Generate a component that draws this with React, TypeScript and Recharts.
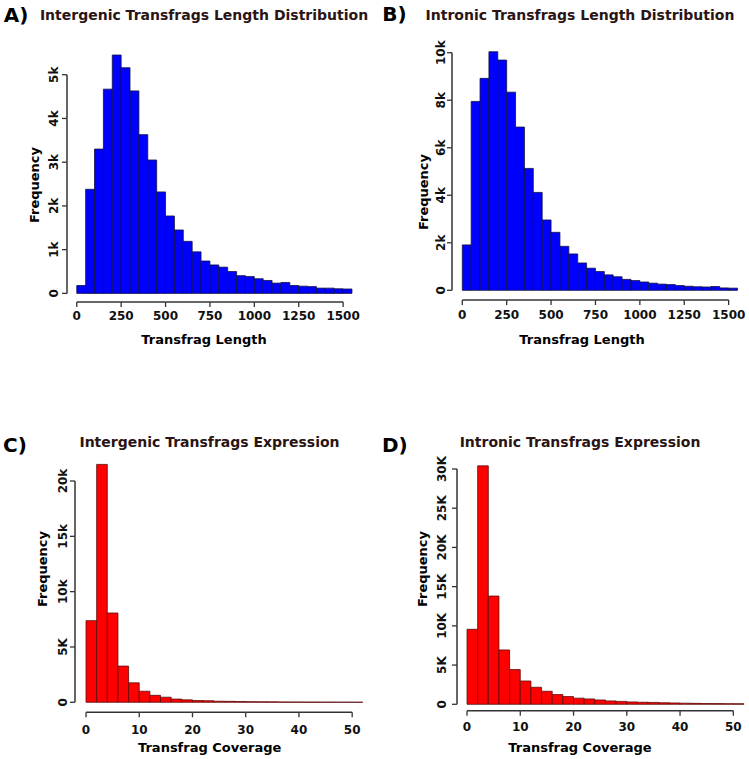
import React from 'react';
import { BarChart, Bar, XAxis, YAxis } from 'recharts';

// ---- Data ----
const lengthBinStarts = [0, 50, 100, 150, 200, 250, 300, 350, 400, 450, 500, 550, 600, 650, 700, 750, 800, 850, 900, 950, 1000, 1050, 1100, 1150, 1200, 1250, 1300, 1350, 1400, 1450, 1500];
const intergenicLengthCounts = [180, 2380, 3300, 4670, 5450, 5160, 4630, 3630, 3050, 2320, 1770, 1450, 1190, 950, 740, 650, 600, 500, 405, 385, 335, 295, 235, 250, 180, 165, 155, 120, 120, 105, 100];
const intronicLengthCounts = [1910, 7950, 8920, 10040, 9690, 8340, 6870, 5130, 4120, 2960, 2440, 1850, 1530, 1150, 930, 790, 650, 570, 460, 410, 350, 300, 260, 240, 200, 170, 150, 140, 160, 100, 90];

const coverageBinStarts = [0, 2, 4, 6, 8, 10, 12, 14, 16, 18, 20, 22, 24, 26, 28, 30, 32, 34, 36, 38, 40, 42, 44, 46, 48, 50];
const intergenicCoverageCounts = [7380, 21500, 8070, 3270, 1760, 1000, 630, 460, 290, 220, 160, 140, 100, 85, 70, 55, 45, 38, 30, 25, 20, 18, 15, 12, 10, 8];
const intronicCoverageCounts = [9560, 30400, 13800, 6930, 4420, 2970, 2170, 1660, 1240, 980, 780, 680, 550, 430, 370, 300, 260, 240, 200, 170, 140, 120, 100, 90, 80, 70];

const lengthTicks = [0, 250, 500, 750, 1000, 1250, 1500];
const coverageTicks = [0, 10, 20, 30, 40, 50];

const aYTicks = [0, 1000, 2000, 3000, 4000, 5000];
const aYLabels = ['0', '1k', '2k', '3k', '4k', '5k'];
const bYTicks = [0, 2000, 4000, 6000, 8000, 10000];
const bYLabels = ['0', '2k', '4k', '6k', '8k', '10k'];
const cYTicks = [0, 5000, 10000, 15000, 20000];
const cYLabels = ['0', '5K', '10k', '15k', '20k'];
const dYTicks = [0, 5000, 10000, 15000, 20000, 25000, 30000];
const dYLabels = ['0', '5K', '10K', '15K', '20K', '25K', '30K'];

const buildBins = (starts: number[], counts: number[], w: number) =>
  starts.map((s, i) => ({ mid: s + w / 2, count: counts[i] }));

const FONT = 'DejaVu Sans';
const AXIS = '#333';
const TS = 5;

type PanelProps = {
  data: { mid: number; count: number }[];
  binW: number;
  xDomain: [number, number];
  yDomain: [number, number];
  xTicks: number[];
  yTicks: number[];
  yLabels: string[];
  plot: { left: number; top: number; width: number; height: number };
  fill: string;
  stroke: string;
  xTickMargin: number;
  yTickMargin: number;
  marginRight?: number;
};

function Panel(p: PanelProps) {
  const YW = 40;
  const MT = 10;
  const MR = p.marginRight ?? 10;
  const XH = 30;
  const pxPerX = p.plot.width / (p.xDomain[1] - p.xDomain[0]);
  const pxPerY = p.plot.height / (p.yDomain[1] - p.yDomain[0]);
  const bandPx = p.binW * pxPerX;

  const XTick = (tp: any) => {
    const v = tp.payload.value;
    const i = p.xTicks.indexOf(v);
    const axisY = tp.y - TS - p.xTickMargin;
    const stepPx = i > 0 ? (p.xTicks[i] - p.xTicks[i - 1]) * pxPerX : 0;
    return (
      <g>
        {i > 0 && (
          <line x1={tp.x - stepPx} x2={tp.x} y1={axisY} y2={axisY} stroke={AXIS} strokeWidth={1.5} />
        )}
        <text
          x={tp.x}
          y={tp.y}
          dy="0.71em"
          textAnchor="middle"
          fontSize={12}
          fontWeight="bold"
          fontFamily={FONT}
          fill="#111"
        >
          {String(v)}
        </text>
      </g>
    );
  };

  const YTick = (tp: any) => {
    const v = tp.payload.value;
    const i = p.yTicks.indexOf(v);
    const axisX = tp.x + TS + p.yTickMargin;
    const stepPx = i > 0 ? (p.yTicks[i] - p.yTicks[i - 1]) * pxPerY : 0;
    return (
      <g>
        {i > 0 && (
          <line x1={axisX} x2={axisX} y1={tp.y} y2={tp.y + stepPx} stroke={AXIS} strokeWidth={1.5} />
        )}
        <text
          x={tp.x}
          y={tp.y}
          transform={`rotate(-90 ${tp.x} ${tp.y})`}
          textAnchor="middle"
          fontSize={12}
          fontWeight="bold"
          fontFamily={FONT}
          fill="#111"
        >
          {i >= 0 ? p.yLabels[i] : String(v)}
        </text>
      </g>
    );
  };

  return (
    <div style={{ position: 'absolute', left: p.plot.left - YW, top: p.plot.top - MT }}>
      <BarChart
        width={YW + p.plot.width + MR}
        height={MT + p.plot.height + XH}
        data={p.data}
        margin={{ top: MT, right: MR, bottom: 0, left: 0 }}
        barCategoryGap={0}
        barGap={0}
      >
        <XAxis
          dataKey="mid"
          type="number"
          domain={p.xDomain}
          ticks={p.xTicks}
          allowDataOverflow
          interval={0}
          axisLine={false}
          tickLine={{ stroke: AXIS, strokeWidth: 1.3 }}
          tickSize={TS}
          tickMargin={p.xTickMargin}
          height={XH}
          tick={XTick}
        />
        <YAxis
          type="number"
          domain={p.yDomain}
          ticks={p.yTicks}
          allowDataOverflow
          interval={0}
          width={YW}
          axisLine={false}
          tickLine={{ stroke: AXIS, strokeWidth: 1.3 }}
          tickSize={TS}
          tickMargin={p.yTickMargin}
          tick={YTick}
        />
        <Bar
          dataKey="count"
          fill={p.fill}
          stroke={p.stroke}
          strokeWidth={0.8}
          barSize={bandPx - 0.02}
          isAnimationActive={false}
        />
      </BarChart>
    </div>
  );
}

const Txt = ({ x, y, size, color, rot, children }: any) => (
  <div
    style={{
      position: 'absolute',
      left: x,
      top: y,
      transform: `translate(-50%, -50%)${rot ? ' rotate(-90deg)' : ''}`,
      fontSize: size,
      fontWeight: 'bold',
      color,
      whiteSpace: 'nowrap',
      lineHeight: 1,
      fontFamily: FONT,
    }}
  >
    {children}
  </div>
);

const TITLE = '#2a1414';

export default function App() {
  return (
    <div
      style={{
        position: 'absolute',
        left: 0,
        top: 0,
        width: 749,
        height: 759,
        overflow: 'hidden',
        background: '#fff',
        fontFamily: FONT,
      }}
    >
      <Panel
        data={buildBins(lengthBinStarts, intergenicLengthCounts, 50)}
        binW={50}
        xDomain={[-55, 1612]}
        yDomain={[-197, 5794]}
        xTicks={lengthTicks}
        yTicks={aYTicks}
        yLabels={aYLabels}
        plot={{ left: 67, top: 40, width: 296, height: 262 }}
        fill="#0000ff"
        stroke="#101040"
        xTickMargin={4}
        yTickMargin={4}
      />
      <Panel
        data={buildBins(lengthBinStarts, intronicLengthCounts, 50)}
        binW={50}
        xDomain={[-58, 1609]}
        yDomain={[-408, 10535]}
        xTicks={lengthTicks}
        yTicks={bYTicks}
        yLabels={bYLabels}
        plot={{ left: 452, top: 40, width: 296, height: 260 }}
        fill="#0000ff"
        stroke="#101040"
        xTickMargin={5}
        yTickMargin={2}
        marginRight={0}
      />
      <Panel
        data={buildBins(coverageBinStarts, intergenicCoverageCounts, 2)}
        binW={2}
        xDomain={[-2.07, 54.1]}
        yDomain={[-904, 22350]}
        xTicks={coverageTicks}
        yTicks={cYTicks}
        yLabels={cYLabels}
        plot={{ left: 75, top: 455, width: 299, height: 257.3 }}
        fill="#ff0000"
        stroke="#5c0a0a"
        xTickMargin={8}
        yTickMargin={3}
      />
      <Panel
        data={buildBins(coverageBinStarts, intronicCoverageCounts, 2)}
        binW={2}
        xDomain={[-1.88, 52.57]}
        yDomain={[-816, 31786]}
        xTicks={coverageTicks}
        yTicks={dYTicks}
        yLabels={dYLabels}
        plot={{ left: 457, top: 455, width: 290, height: 255.7 }}
        fill="#ff0000"
        stroke="#5c0a0a"
        xTickMargin={7}
        yTickMargin={6}
        marginRight={0}
      />

      <Txt x={16} y={15} size={20} color="#000">A)</Txt>
      <Txt x={204} y={14.5} size={14} color={TITLE}>Intergenic Transfrags Length Distribution</Txt>
      <Txt x={394.5} y={13.5} size={20} color="#000">B)</Txt>
      <Txt x={580} y={14.5} size={14} color={TITLE}>Intronic Transfrags Length Distribution</Txt>
      <Txt x={15} y={444.7} size={20} color="#000">C)</Txt>
      <Txt x={209.5} y={442} size={14} color={TITLE}>Intergenic Transfrags Expression</Txt>
      <Txt x={394.8} y={444.7} size={20} color="#000">D)</Txt>
      <Txt x={580} y={442} size={14} color={TITLE}>Intronic Transfrags Expression</Txt>

      <Txt x={34} y={185} size={13} color="#000" rot>Frequency</Txt>
      <Txt x={422.5} y={191.7} size={13} color="#000" rot>Frequency</Txt>
      <Txt x={41.7} y={568.7} size={13} color="#000" rot>Frequency</Txt>
      <Txt x={421.5} y={568.7} size={13} color="#000" rot>Frequency</Txt>

      <Txt x={204} y={339} size={13} color="#000">Transfrag Length</Txt>
      <Txt x={582} y={339} size={13} color="#000">Transfrag Length</Txt>
      <Txt x={209.7} y={747} size={13} color="#000">Transfrag Coverage</Txt>
      <Txt x={580} y={747} size={13} color="#000">Transfrag Coverage</Txt>
    </div>
  );
}
